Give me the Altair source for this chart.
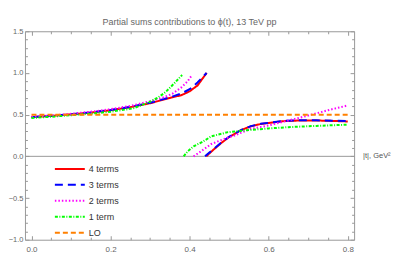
import altair as alt
import pandas as pd

title_text = "Partial sums contributions to ϕ(t), 13 TeV pp"
axis_label_text = "|t|, GeV²"

series_names = ["4 terms", "3 terms", "2 terms", "1 term", "LO"]
series_colors = ["#ff0000", "#0000ff", "#ff00ff", "#00ff00", "#ff8000"]
series_dash = [[1, 0], [8, 5], [1.5, 2], [3, 1.5, 1, 1.5], [5, 3]]
series_width = [2.0, 2.0, 1.6, 1.8, 1.6]

# 4 terms
t_red_1 = [0.0, 0.05, 0.10, 0.15, 0.20, 0.25, 0.30, 0.35, 0.38, 0.40, 0.42, 0.443]
v_red_1 = [0.470, 0.485, 0.503, 0.525, 0.553, 0.590, 0.637, 0.700, 0.735, 0.780, 0.850, 1.000]
t_red_2 = [0.442, 0.45, 0.46, 0.48, 0.50, 0.53, 0.555, 0.58, 0.637, 0.68, 0.72, 0.76, 0.80]
v_red_2 = [0.0, 0.035, 0.078, 0.16, 0.232, 0.315, 0.36, 0.388, 0.422, 0.43, 0.43, 0.425, 0.418]
# 3 terms
t_blue_1 = [0.0, 0.05, 0.10, 0.15, 0.20, 0.25, 0.30, 0.35, 0.38, 0.40, 0.42, 0.443]
v_blue_1 = [0.470, 0.486, 0.505, 0.527, 0.556, 0.594, 0.642, 0.707, 0.755, 0.805, 0.885, 1.000]
t_blue_2 = [0.439, 0.45, 0.46, 0.48, 0.50, 0.53, 0.555, 0.58, 0.637, 0.68, 0.72, 0.76, 0.80]
v_blue_2 = [0.0, 0.045, 0.085, 0.165, 0.235, 0.315, 0.362, 0.39, 0.425, 0.432, 0.432, 0.428, 0.422]
# 2 terms
t_mag_1 = [0.0, 0.05, 0.10, 0.15, 0.20, 0.25, 0.30, 0.33, 0.356, 0.38, 0.395, 0.406]
v_mag_1 = [0.475, 0.490, 0.510, 0.535, 0.565, 0.605, 0.660, 0.700, 0.750, 0.830, 0.900, 0.975]
t_mag_2 = [0.41, 0.431, 0.455, 0.485, 0.513, 0.555, 0.60, 0.637, 0.68, 0.72, 0.76, 0.80]
v_mag_2 = [0.0, 0.068, 0.148, 0.205, 0.25, 0.33, 0.37, 0.415, 0.465, 0.515, 0.565, 0.61]
# 1 term
t_grn_1 = [0.0, 0.05, 0.10, 0.15, 0.20, 0.257, 0.298, 0.320, 0.339, 0.36, 0.381]
v_grn_1 = [0.460, 0.475, 0.493, 0.512, 0.535, 0.575, 0.650, 0.705, 0.770, 0.870, 0.975]
t_grn_2 = [0.385, 0.395, 0.41, 0.431, 0.455, 0.497, 0.55, 0.60, 0.65, 0.72, 0.80]
v_grn_2 = [0.0, 0.06, 0.12, 0.17, 0.24, 0.29, 0.315, 0.335, 0.35, 0.365, 0.38]
# LO
t_lo = [0.0, 0.8]
v_lo = [0.5, 0.5]

x_domain = [-0.0165, 0.816]
y_domain = [-1.0, 1.5]
x_label_values = [0.0, 0.2, 0.4, 0.6, 0.8]
y_label_values = [-1.0, -0.5, 0.0, 0.5, 1.0, 1.5]
x_tick_values = [0.0, 0.05, 0.1, 0.15, 0.2, 0.25, 0.3, 0.35, 0.4, 0.45, 0.5,
                 0.55, 0.6, 0.65, 0.7, 0.75, 0.8]
y_tick_values = [-1.0, -0.9, -0.8, -0.7, -0.6, -0.5, -0.4, -0.3, -0.2, -0.1, 0.0,
                 0.1, 0.2, 0.3, 0.4, 0.5, 0.6, 0.7, 0.8, 0.9, 1.0, 1.1, 1.2, 1.3, 1.4, 1.5]

pieces = [
    ("4 terms", "a", t_red_1, v_red_1), ("4 terms", "b", t_red_2, v_red_2),
    ("3 terms", "a", t_blue_1, v_blue_1), ("3 terms", "b", t_blue_2, v_blue_2),
    ("2 terms", "a", t_mag_1, v_mag_1), ("2 terms", "b", t_mag_2, v_mag_2),
    ("1 term", "a", t_grn_1, v_grn_1), ("1 term", "b", t_grn_2, v_grn_2),
    ("LO", "a", t_lo, v_lo),
]
rows = []
for s, b, ts, vs in pieces:
    for t, v in zip(ts, vs):
        rows.append({"series": s, "branch": s + b, "t": t, "v": v})
df = pd.DataFrame(rows)
one = pd.DataFrame({"label": [axis_label_text]})

W, H = 330, 209
FONT = "Liberation Sans"
GRAY = "#999999"
x_scale = alt.Scale(domain=x_domain, nice=False, zero=False)
y_scale = alt.Scale(domain=y_domain, nice=False, zero=False)

x_major = "abs(datum.value*5 - round(datum.value*5)) < 0.001"
y_major = "abs(datum.value*2 - round(datum.value*2)) < 0.001"


def tick_axis(orient, offset, values, test):
    return alt.Axis(orient=orient, offset=offset, values=values, labels=False,
                    domain=False, grid=False, title=None, tickColor=GRAY, tickWidth=1,
                    tickSize={"condition": {"test": test, "value": 4}, "value": 2.5})


zero_line = alt.Chart(one).mark_rule(color=GRAY, strokeWidth=1).encode(
    y=alt.YDatum(0, scale=y_scale, axis=None)
)

legend = alt.Legend(title=None, orient="none", legendX=39, legendY=132,
                    symbolType="M-3,0H3", symbolSize=100, symbolStrokeWidth=2,
                    labelFontSize=9, labelFont=FONT, labelColor="#333333",
                    rowPadding=5, labelOffset=13, padding=0)

lines = alt.Chart(df).mark_line(clip=True).encode(
    x=alt.X("t:Q", scale=x_scale,
            axis=alt.Axis(orient="bottom", values=x_label_values, format=".1f",
                          ticks=False, domain=False, grid=False, title=None,
                          labelPadding=6, labelFontSize=8, labelFont=FONT,
                          labelColor="#666666")),
    y=alt.Y("v:Q", scale=y_scale,
            axis=alt.Axis(orient="left", values=y_label_values, format=".1f",
                          ticks=False, domain=False, grid=False, title=None,
                          labelPadding=2, labelFontSize=7.5, labelFont=FONT,
                          labelColor="#666666", minExtent=16, maxExtent=16)),
    color=alt.Color("series:N", scale=alt.Scale(domain=series_names, range=series_colors),
                    legend=legend),
    strokeDash=alt.StrokeDash("series:N", scale=alt.Scale(domain=series_names, range=series_dash),
                              legend=legend),
    strokeWidth=alt.StrokeWidth("series:N", scale=alt.Scale(domain=series_names, range=series_width),
                                legend=None),
    detail="branch:N",
)

ticks_a = alt.Chart(df).mark_point(opacity=0).encode(
    x=alt.X("t:Q", scale=x_scale, axis=tick_axis("bottom", -H, x_tick_values, x_major)),
    y=alt.Y("v:Q", scale=y_scale, axis=tick_axis("right", -W, y_tick_values, y_major)),
)
ticks_b = alt.Chart(df).mark_point(opacity=0).encode(
    x=alt.X("t:Q", scale=x_scale, axis=tick_axis("top", -H, x_tick_values, x_major)),
    y=alt.Y("v:Q", scale=y_scale, axis=tick_axis("left", -W, y_tick_values, y_major)),
)

label = alt.Chart(one).mark_text(align="left", baseline="middle", dx=9, fontSize=7.5,
                                 font=FONT, color="#555555").encode(
    x=alt.XDatum(x_domain[1], scale=x_scale, axis=None),
    y=alt.YDatum(0, scale=y_scale, axis=None),
    text="label:N",
)

chart = alt.layer(zero_line, ticks_a, ticks_b, lines, label).resolve_axis(
    x="independent", y="independent"
).properties(
    width=W, height=H,
    title=alt.TitleParams(title_text, fontSize=9, font=FONT, color="#666666",
                          fontWeight="normal", offset=0),
    padding={"left": 0, "top": 10, "right": 0, "bottom": 2},
).configure_view(stroke=GRAY, strokeWidth=1)

chart.save("out.html", embed_options={"renderer": "svg", "actions": False})
